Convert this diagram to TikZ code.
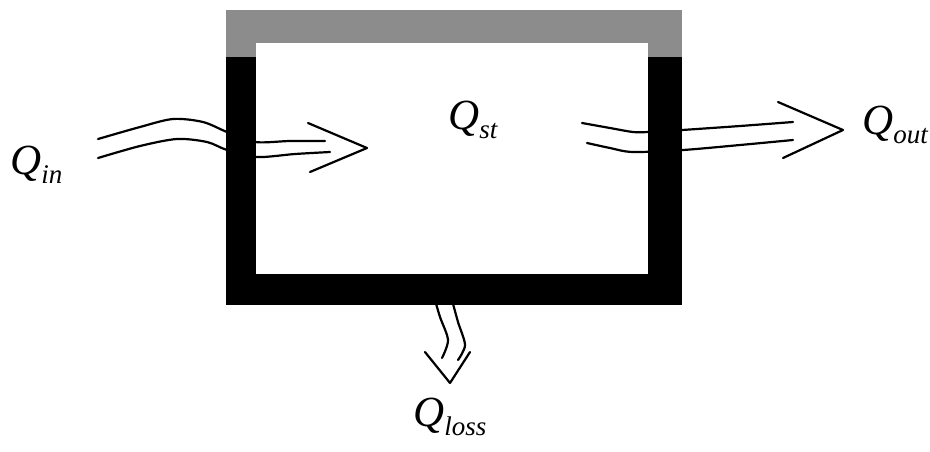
\documentclass[tikz,border=0pt]{standalone}
\usepackage{fontspec}
\setmainfont{Liberation Serif}
\tikzset{
  flow/.style={line width=2.2pt, line cap=round, line join=round},
  lab/.style={inner sep=0pt, anchor=base west, font=\fontsize{43}{43}\selectfont\itshape},
}
\newcommand{\heatQ}[1]{Q\raisebox{-0.22em}{\fontsize{27}{27}\selectfont #1}}
\begin{document}
\begin{tikzpicture}[x=1pt,y=-1pt]
\useasboundingbox (0,0) rectangle (930,451);
% wall
\fill[black] (226,57) rectangle (682,305);
\fill[gray!90!white] (226,10) rectangle (682,57);
\fill[white] (256,43) rectangle (648,274);
% Q_in flow
\draw[flow] plot[smooth] coordinates {(98,139) (140,127) (173,119) (203,122) (227,132) (255,142) (290,141) (325,141)};
\draw[flow] plot[smooth] coordinates {(98,158) (140,146) (177,139) (207,142) (227,150) (257,157) (295,154) (330,152)};
\draw[flow] (308,123) -- (367,148) -- (310,172);
% Q_out flow
\draw[flow] plot[smooth] coordinates {(582,123) (610,128) (633,132) (648,132) (682,130) (740,126) (793,122)};
\draw[flow] plot[smooth] coordinates {(587,143) (610,148) (633,152) (683,150) (740,145) (793,140)};
\draw[flow] (778,102) -- (843,130) -- (783,158);
% Q_loss flow
\draw[flow] plot[smooth] coordinates {(435,300) (440,317) (448,340) (442,358)};
\draw[flow] plot[smooth] coordinates {(452,300) (458,322) (465,345) (458,360)};
\draw[flow] (425,352) -- (450,383) -- (470,352);
% labels
\node[lab] (qin) at (10,174) {\heatQ{in}};
\node[lab] (qst) at (448,129) {\heatQ{st}};
\node[lab] (qout) at (862,134) {\heatQ{out}};
\node[lab] (qloss) at (413,426) {\heatQ{loss}};
\end{tikzpicture}
\end{document}
